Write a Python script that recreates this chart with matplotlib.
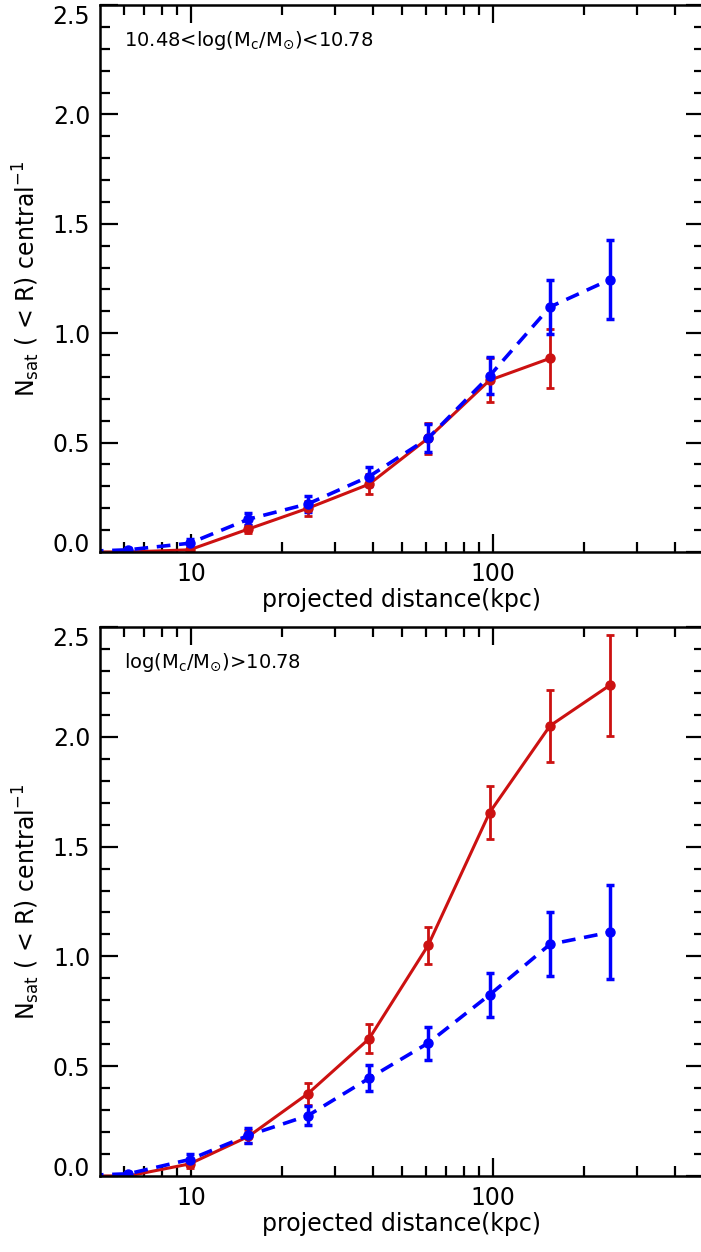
import numpy as np
import matplotlib
matplotlib.use('Agg')
import matplotlib.pyplot as plt
from matplotlib.ticker import FixedLocator, NullFormatter, MultipleLocator, FormatStrFormatter

plt.rcParams['font.family'] = ['DejaVu Sans']
plt.rcParams['mathtext.fontset'] = 'dejavusans'

# projected distance bins (kpc); first bin lies left of the plotted range
r_kpc = [3.9, 6.2, 9.9, 15.5, 24.4, 38.9, 61.0, 97.5, 154.5, 244.0]

# top panel: 10.48 < log(Mc/Msun) < 10.78
top_red = [0.0, 0.0, 0.01, 0.105, 0.20, 0.31, 0.52, 0.785, 0.885]
top_red_err = [0.0, 0.005, 0.01, 0.02, 0.035, 0.045, 0.07, 0.10, 0.135]
top_blue = [0.0, 0.01, 0.04, 0.15, 0.22, 0.345, 0.52, 0.805, 1.12, 1.245]
top_blue_err = [0.0, 0.008, 0.02, 0.028, 0.035, 0.045, 0.065, 0.085, 0.125, 0.18]

# bottom panel: log(Mc/Msun) > 10.78
bot_red = [0.0, 0.0, 0.055, 0.18, 0.375, 0.625, 1.05, 1.655, 2.05, 2.235]
bot_red_err = [0.0, 0.005, 0.02, 0.03, 0.05, 0.065, 0.085, 0.12, 0.165, 0.23]
bot_blue = [0.0, 0.01, 0.075, 0.185, 0.275, 0.445, 0.605, 0.825, 1.055, 1.11]
bot_blue_err = [0.0, 0.01, 0.025, 0.035, 0.045, 0.06, 0.075, 0.10, 0.145, 0.215]

y_ticks = [0.0, 0.5, 1.0, 1.5, 2.0, 2.5]

panel_labels = [r'10.48<log(M$_{\rm c}$/M$_{\odot}$)<10.78',
                r'log(M$_{\rm c}$/M$_{\odot}$)>10.78']

RED = '#cc1111'
BLUE = '#0000ff'

fig = plt.figure(figsize=(7.01, 12.52), dpi=100)
W, H = 701., 1252.
ax_top = fig.add_axes([100/W, (H-552)/H, 604/W, 547/H])
ax_bot = fig.add_axes([100/W, (H-1176)/H, 604/W, 549/H])

panels = [(ax_top, top_red, top_red_err, top_blue, top_blue_err, panel_labels[0]),
          (ax_bot, bot_red, bot_red_err, bot_blue, bot_blue_err, panel_labels[1])]

for ax, yr, er, yb, eb, lab in panels:
    xr = r_kpc[:len(yr)]
    xb = r_kpc[:len(yb)]
    ax.errorbar(xr, yr, yerr=er, color=RED, lw=2.2, marker='o', ms=6.5,
                capsize=3, capthick=2, elinewidth=2)
    ax.errorbar(xb, yb, yerr=eb, color=BLUE, lw=2.6, ls=(0, (3.8, 2.4)), marker='o',
                ms=6.5, capsize=3, capthick=2.5, elinewidth=2.5)

    ax.set_xscale('log')
    ax.set_xlim(5, 500)
    ax.set_ylim(0, 2.5)

    ax.xaxis.set_major_locator(FixedLocator([10, 100]))
    ax.xaxis.set_minor_locator(FixedLocator([6, 7, 8, 9, 20, 30, 40, 50, 60, 70, 80, 90,
                                             200, 300, 400]))
    ax.xaxis.set_major_formatter(FormatStrFormatter('%d'))
    ax.xaxis.set_minor_formatter(NullFormatter())
    ax.yaxis.set_major_locator(FixedLocator(y_ticks))
    ax.yaxis.set_minor_locator(MultipleLocator(0.1))
    ax.yaxis.set_major_formatter(FormatStrFormatter('%.1f'))

    ax.tick_params(which='both', direction='in', top=True, right=True,
                   labelsize=17, width=1.6, color='k')
    ax.tick_params(which='major', length=13, pad=7)
    ax.tick_params(which='minor', length=7)
    for s in ax.spines.values():
        s.set_linewidth(1.8)

    # keep the end labels inside the panel, as in the original
    ticks = ax.yaxis.get_major_ticks(len(y_ticks))
    ticks[-1].label1.set_va('top')
    ticks[0].label1.set_va('baseline')

    ax.set_xlabel('projected distance(kpc)', fontsize=17, labelpad=2)
    ax.set_ylabel(r'N$_{\rm sat}$ ( < R) central$^{-1}$', fontsize=17, labelpad=8)
    ax.text(0.04, 0.935, lab, transform=ax.transAxes, fontsize=14, va='center')

fig.savefig('out.png', dpi=100)
